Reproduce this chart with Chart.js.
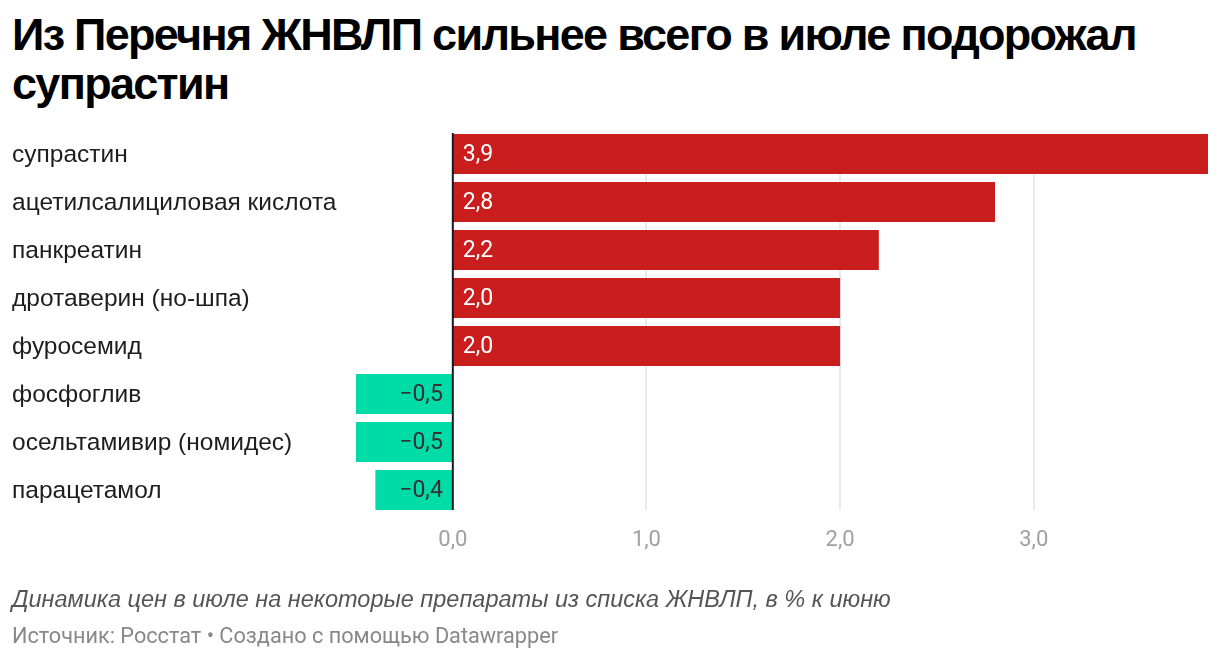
<!DOCTYPE html>
<html lang="ru">
<head>
<meta charset="utf-8">
<script src="https://cdn.jsdelivr.net/npm/chart.js@4"></script>
<style>
    html, body { margin: 0; padding: 0; background: #ffffff; }
    body { width: 1220px; height: 660px; position: relative; overflow: hidden; }
    #title {
        position: absolute; left: 12px; top: 10px; width: 1200px;
        font-family: 'Liberation Sans', Arial, sans-serif; font-weight: bold;
        font-size: 45px; line-height: 49px; color: #000000; letter-spacing: -1.7px;
    }
    #chart-wrap { position: absolute; left: 0; top: 0; width: 1220px; height: 660px; }
    #note {
        position: absolute; left: 12px; top: 586px;
        font-family: 'Liberation Sans', Arial, sans-serif; font-style: italic;
        font-size: 23.5px; color: #555555;
    }
    #source {
        position: absolute; left: 12px; top: 623px;
        font-family: Roboto, sans-serif; font-size: 21.7px; color: #888888;
    }
</style>
</head>
<body>
<div id="title">Из Перечня ЖНВЛП сильнее всего в июле подорожал супрастин</div>
<div id="chart-wrap"><canvas id="drugs-chart"></canvas></div>
<div id="note">Динамика цен в июле на некоторые препараты из списка ЖНВЛП, в % к июню</div>
<div id="source">Источник: Росстат • Создано с помощью Datawrapper</div>

<script>
const drugNames = [
    'супрастин',
    'ацетилсалициловая кислота',
    'панкреатин',
    'дротаверин (но-шпа)',
    'фуросемид',
    'фосфоглив',
    'осельтамивир (номидес)',
    'парацетамол'
];
const priceChange = [3.9, 2.8, 2.2, 2.0, 2.0, -0.5, -0.5, -0.4];
const axisTicks = [0, 1, 2, 3];

const RED = '#c91d1e';
const GREEN = '#00dca8';

function formatRu(v, digits) {
    const s = Math.abs(v).toFixed(digits).replace('.', ',');
    return v < 0 ? '\u2212' + s : s;
}

// grid lines + zero line, kept to the bar band
const gridPlugin = {
    id: 'gridLines',
    beforeDatasetsDraw(chart) {
        const { ctx, scales: { x, y } } = chart;
        const top = y.top + 4;
        const bottom = y.bottom - 4;
        ctx.save();
        ctx.strokeStyle = '#e3e3e3';
        ctx.lineWidth = 1.5;
        axisTicks.filter(t => t !== 0).forEach(t => {
            const px = Math.round(x.getPixelForValue(t));
            ctx.beginPath();
            ctx.moveTo(px, top);
            ctx.lineTo(px, bottom);
            ctx.stroke();
        });
        ctx.restore();
    },
    afterDatasetsDraw(chart) {
        const { ctx, scales: { x, y } } = chart;
        const px = x.getPixelForValue(0);
        ctx.save();
        ctx.strokeStyle = '#1a1a1a';
        ctx.lineWidth = 2;
        ctx.beginPath();
        ctx.moveTo(px, y.top + 3);
        ctx.lineTo(px, y.bottom - 4);
        ctx.stroke();
        ctx.restore();
    }
};

// value labels inside the bars
const valueLabels = {
    id: 'valueLabels',
    afterDraw(chart) {
        const { ctx } = chart;
        const meta = chart.getDatasetMeta(0);
        ctx.save();
        ctx.font = '23px Roboto';
        ctx.textBaseline = 'middle';
        meta.data.forEach((bar, i) => {
            const v = priceChange[i];
            const text = formatRu(v, 1);
            if (v >= 0) {
                ctx.fillStyle = '#ffffff';
                ctx.textAlign = 'left';
                ctx.fillText(text, bar.base + 10, bar.y + 1);
            } else {
                ctx.fillStyle = '#333333';
                ctx.textAlign = 'right';
                ctx.fillText(text, bar.base - 10, bar.y + 1);
            }
        });
        ctx.restore();
    }
};

const ctx = document.getElementById('drugs-chart').getContext('2d');
const drugsChart = new Chart(ctx, {
    type: 'bar',
    data: {
        labels: drugNames,
        datasets: [{
            data: priceChange,
            backgroundColor: priceChange.map(v => v >= 0 ? RED : GREEN),
            borderWidth: 0,
            barPercentage: 1,
            categoryPercentage: 40 / 48
        }]
    },
    options: {
        indexAxis: 'y',
        responsive: true,
        maintainAspectRatio: false,
        animation: false,
        layout: {
            padding: { left: 12, right: 12, top: 130, bottom: 106 }
        },
        plugins: {
            legend: { display: false },
            tooltip: { enabled: false }
        },
        scales: {
            x: {
                type: 'linear',
                min: -0.5,
                max: 3.9,
                afterBuildTicks: scale => {
                    scale.ticks = axisTicks.map(v => ({ value: v }));
                },
                afterFit: scale => { scale.height = 40; },
                grid: { display: false },
                border: { display: false },
                ticks: {
                    padding: 5,
                    color: '#a0a0a0',
                    font: { family: 'Roboto', size: 22 },
                    callback: value => formatRu(value, 1)
                }
            },
            y: {
                afterFit: scale => { scale.width = 344; },
                grid: { display: false },
                border: { display: false },
                ticks: {
                    crossAlign: 'far',
                    labelOffset: 1,
                    color: '#1d1d1d',
                    font: { family: 'Liberation Sans, Arial, sans-serif', size: 24.5 }
                }
            }
        }
    },
    plugins: [gridPlugin, valueLabels]
});
</script>
</body>
</html>
